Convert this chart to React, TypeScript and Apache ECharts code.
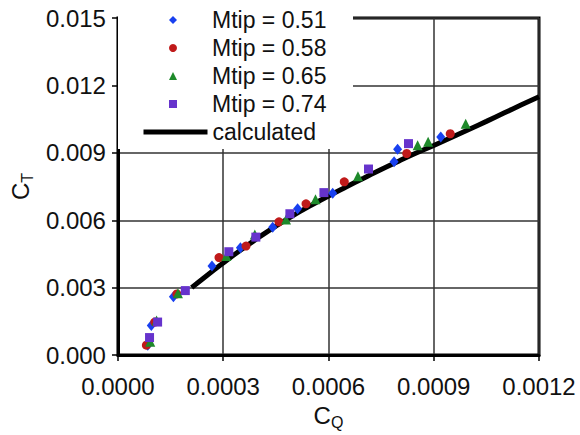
import React, { useEffect, useRef } from "react";
import * as echarts from "echarts";

// C_Q (x) and C_T (y)
const mtip051: number[][] = [
  [0.000085, 0.00044], [0.000095, 0.00132], [0.000158, 0.0026], [0.000268, 0.00397],
  [0.000349, 0.00478], [0.000441, 0.00569], [0.000512, 0.00651], [0.000612, 0.0072],
  [0.000787, 0.0086], [0.000797, 0.00916], [0.00092, 0.0097],
];
const mtip058: number[][] = [
  [0.000081, 0.00044], [0.000105, 0.00147], [0.000168, 0.00272], [0.000288, 0.00434],
  [0.000365, 0.00485], [0.000459, 0.00593], [0.000536, 0.00673], [0.000645, 0.00771],
  [0.000823, 0.00897], [0.000947, 0.00985],
];
const mtip065: number[][] = [
  [0.000092, 0.00059], [0.00011, 0.00154], [0.000171, 0.00275], [0.000309, 0.00441],
  [0.00039, 0.00537], [0.000479, 0.00603], [0.000563, 0.00693], [0.000684, 0.00796],
  [0.000854, 0.00934], [0.000884, 0.00949], [0.000991, 0.01029],
];
const mtip074: number[][] = [
  [0.00009, 0.00078], [0.000113, 0.00147], [0.000192, 0.00287], [0.000316, 0.0046],
  [0.000393, 0.00525], [0.00049, 0.00629], [0.000587, 0.00723], [0.000714, 0.00828],
  [0.000828, 0.00941],
];
const calculated: number[][] = [
  [0.00021, 0.003], [0.00025, 0.0035], [0.0003, 0.0041], [0.00035, 0.00468],
  [0.0004, 0.00522], [0.00045, 0.00574], [0.0005, 0.00622], [0.00055, 0.00666],
  [0.0006, 0.00708], [0.00065, 0.00748], [0.0007, 0.00787], [0.00075, 0.00826],
  [0.0008, 0.00863], [0.00085, 0.00899], [0.0009, 0.00933], [0.00095, 0.00968],
  [0.001, 0.01004], [0.00105, 0.0104], [0.0011, 0.01077], [0.00115, 0.01114],
  [0.0012, 0.0115],
];
const seriesNames = ["Mtip = 0.51", "Mtip = 0.58", "Mtip = 0.65", "Mtip = 0.74", "calculated"];
const seriesColors = ["#1840f0", "#c01a1a", "#1e8a2a", "#6633cc", "#000000"];
const seriesSymbols = ["diamond", "circle", "triangle", "rect"];
const xTicks = { min: 0, max: 0.0012, interval: 0.0003 };
const yTicks = { min: 0, max: 0.015, interval: 0.003 };

const FONT = "'Liberation Sans', Arial, sans-serif";

export default function App() {
  const ref = useRef<HTMLDivElement>(null);
  useEffect(() => {
    if (!ref.current) return;
    const chart = echarts.init(ref.current, null, { renderer: "svg" });
    const scatterData = [mtip051, mtip058, mtip065, mtip074];
    const symbolSizes = [[9, 11], 9, 10, 9];
    const legendText = { fontFamily: FONT, fontSize: 23, color: "#111", lineHeight: 24 };
    chart.setOption({
      animation: false,
      backgroundColor: "#ffffff",
      textStyle: { fontFamily: FONT },
      grid: {
        left: 104, right: 41, top: 18, bottom: 77,
        show: true, borderColor: "#000", borderWidth: 3,
      },
      graphic: [
        {
          type: "rect",
          z: 5,
          shape: { x: 118, y: 0, width: 235, height: 149 },
          style: { fill: "#ffffff" },
        },
      ],
      legend: [
        {
          orient: "vertical",
          left: 169, top: 8,
          padding: 0,
          itemWidth: 8, itemHeight: 8, itemGap: 4,
          textStyle: { ...legendText, padding: [0, 0, 0, 30] },
          data: seriesNames.slice(0, 4).map((n, i) => ({ name: n, icon: seriesSymbols[i] })),
          z: 10,
        },
        {
          orient: "vertical",
          left: 141, top: 120,
          padding: 0,
          itemWidth: 64, itemHeight: 9,
          lineStyle: { width: 5, color: "#000" },
          textStyle: legendText,
          data: [{ name: seriesNames[4], itemStyle: { opacity: 0 } }],
          z: 10,
        },
      ],
      xAxis: {
        type: "value",
        min: xTicks.min, max: xTicks.max, interval: xTicks.interval,
        name: "{a|C}{b|Q}",
        nameLocation: "middle",
        nameGap: 37,
        nameTextStyle: {
          rich: {
            a: { fontSize: 24, fontFamily: FONT, color: "#111", lineHeight: 30, verticalAlign: "middle" },
            b: { fontSize: 16, fontFamily: FONT, color: "#111", lineHeight: 30, verticalAlign: "bottom" },
          },
        },
        axisLine: { lineStyle: { color: "#000", width: 3 } },
        axisTick: { show: true, length: 6, lineStyle: { color: "#000", width: 1.5 } },
        axisLabel: {
          fontSize: 24, color: "#111", fontFamily: FONT, margin: 19,
          formatter: (v: number) => v.toFixed(4),
        },
        splitLine: { show: true, lineStyle: { color: "#333", width: 1.5 } },
      },
      yAxis: {
        type: "value",
        min: yTicks.min, max: yTicks.max, interval: yTicks.interval,
        name: "{a|C}{b|T}",
        nameLocation: "middle",
        nameGap: 72,
        nameTextStyle: {
          rich: {
            a: { fontSize: 24, fontFamily: FONT, color: "#111", lineHeight: 30, verticalAlign: "middle" },
            b: { fontSize: 16, fontFamily: FONT, color: "#111", lineHeight: 30, verticalAlign: "bottom" },
          },
        },
        axisLine: { lineStyle: { color: "#000", width: 3 } },
        axisTick: { show: true, length: 6, lineStyle: { color: "#000", width: 1.5 } },
        axisLabel: {
          fontSize: 24, color: "#111", fontFamily: FONT, margin: 12,
          formatter: (v: number) => v.toFixed(3),
        },
        splitLine: { show: true, lineStyle: { color: "#333", width: 1.5 } },
      },
      series: [
        ...scatterData.map((d, i) => ({
          type: "scatter",
          name: seriesNames[i],
          data: d,
          symbol: seriesSymbols[i],
          symbolSize: symbolSizes[i],
          itemStyle: { color: seriesColors[i], opacity: 1 },
          z: 3,
        })),
        {
          type: "line",
          name: seriesNames[4],
          data: calculated,
          smooth: true,
          symbol: "none",
          showSymbol: false,
          lineStyle: { color: "#000", width: 5 },
          itemStyle: { color: "rgba(0,0,0,0)" },
          z: 2,
        },
      ],
    });
    return () => chart.dispose();
  }, []);
  return (
    <div
      ref={ref}
      style={{ position: "fixed", left: 0, top: 0, width: 580, height: 435 }}
    />
  );
}
